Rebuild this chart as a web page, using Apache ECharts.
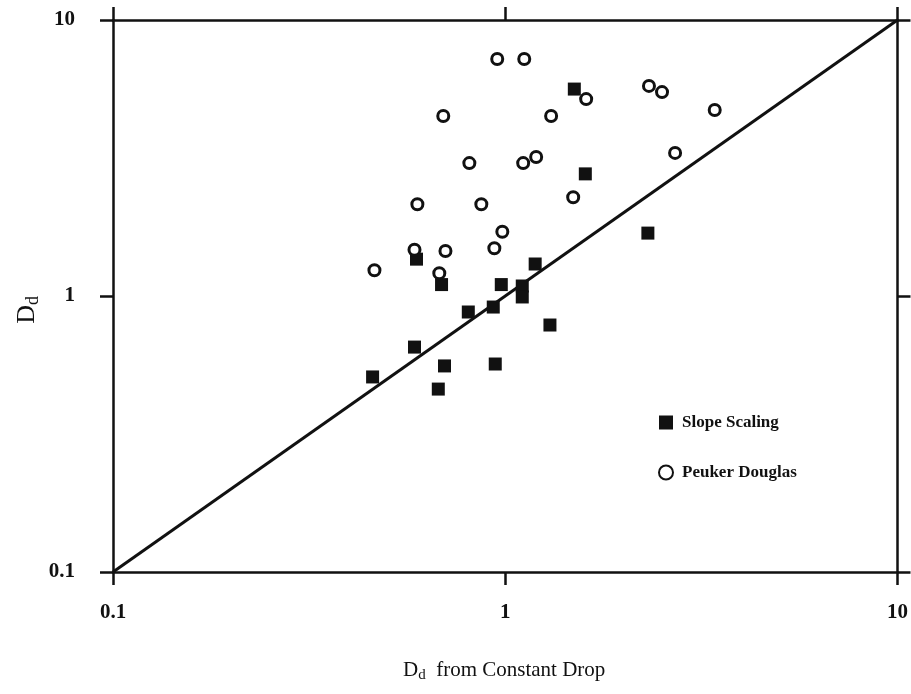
<!DOCTYPE html>
<html>
<head>
<meta charset="utf-8">
<script src="https://cdn.jsdelivr.net/npm/echarts@6/dist/echarts.min.js"></script>
<style>
html,body{margin:0;padding:0;background:#fff;}
#chart{width:911px;height:694px;}
</style>
</head>
<body>
<div id="chart"></div>
<script>
// Tick labels (log axes, base 10)
const tickLabels = ['0.1', '1', '10'];

// Slope Scaling: [Dd from Constant Drop, Dd]
const slopeX = [1.50, 1.60, 2.31, 0.594, 0.688, 0.977, 1.105, 1.105, 1.192, 0.805, 0.932, 1.30, 0.587, 0.700, 0.943, 0.459, 0.675];
const slopeY = [5.62, 2.77, 1.69, 1.36, 1.10, 1.10, 1.087, 0.992, 1.306, 0.875, 0.912, 0.785, 0.653, 0.558, 0.567, 0.509, 0.460];

// Peuker Douglas
const peukerX = [0.954, 1.118, 1.608, 0.695, 1.309, 2.325, 2.51, 3.42, 2.71, 0.810, 1.111, 1.199, 1.49, 0.597, 0.869, 0.983, 0.938, 0.587, 0.704, 0.464, 0.679];
const peukerY = [7.22, 7.22, 5.17, 4.49, 4.49, 5.77, 5.48, 4.72, 3.30, 3.03, 3.03, 3.19, 2.28, 2.15, 2.15, 1.71, 1.49, 1.47, 1.456, 1.24, 1.21];

// 1:1 line
const lineX = [0.1, 10];
const lineY = [0.1, 10];

const seriesNames = ['Slope Scaling', 'Peuker Douglas'];

const zip = (a, b) => a.map((v, i) => [v, b[i]]);
const FONT = '"Liberation Serif", "DejaVu Serif", serif';
const INK = '#111';

function labelFor(v) {
  const e = Math.round(Math.log10(v));
  return tickLabels[e + 1];
}

const axisLineStyle = { color: INK, width: 2.5 };
const tickStyle = { show: true, length: 13, lineStyle: { color: INK, width: 2.5 } };

const chart = echarts.init(document.getElementById('chart'));
chart.setOption({
  backgroundColor: '#fff',
  animation: false,
  grid: { left: 113, right: 12, top: 20, bottom: 122 },
  xAxis: [
    {
      type: 'log', logBase: 10, min: 0.1, max: 10, position: 'bottom',
      axisLine: { show: true, lineStyle: axisLineStyle },
      axisTick: tickStyle,
      minorTick: { show: false },
      splitLine: { show: false },
      axisLabel: { color: INK, fontFamily: FONT, fontSize: 21, fontWeight: 'bold', margin: 30, formatter: labelFor }
    },
    {
      type: 'log', logBase: 10, min: 0.1, max: 10, position: 'top',
      axisLine: { show: true, lineStyle: axisLineStyle },
      axisTick: tickStyle,
      splitLine: { show: false },
      axisLabel: { show: false }
    }
  ],
  yAxis: [
    {
      type: 'log', logBase: 10, min: 0.1, max: 10, position: 'left',
      axisLine: { show: true, lineStyle: axisLineStyle },
      axisTick: tickStyle,
      splitLine: { show: false },
      axisLabel: { color: INK, fontFamily: FONT, fontSize: 21, fontWeight: 'bold', margin: 38, formatter: labelFor }
    },
    {
      type: 'log', logBase: 10, min: 0.1, max: 10, position: 'right',
      axisLine: { show: true, lineStyle: axisLineStyle },
      axisTick: tickStyle,
      splitLine: { show: false },
      axisLabel: { show: false }
    }
  ],
  legend: {
    data: seriesNames,
    orient: 'vertical',
    left: 653, top: 409,
    itemWidth: 14, itemHeight: 14, itemGap: 33,
    textStyle: { color: INK, fontFamily: FONT, fontSize: 17, fontWeight: 'bold', padding: [0, 0, 0, 4] }
  },
  graphic: [
    {
      type: 'text', left: 14, top: 296, rotation: Math.PI / 2,
      style: {
        text: '{a|D}{b|d}',
        rich: {
          a: { fontFamily: FONT, fontSize: 26, fill: INK },
          b: { fontFamily: FONT, fontSize: 18, fill: INK, padding: [12, 0, 0, 0] }
        }
      }
    },
    {
      type: 'text', left: 403, top: 660,
      style: {
        text: '{a|D}{b|d}{c|  from Constant Drop}',
        rich: {
          a: { fontFamily: FONT, fontSize: 21, fill: INK },
          b: { fontFamily: FONT, fontSize: 15, fill: INK, padding: [10, 0, 0, 0] },
          c: { fontFamily: FONT, fontSize: 21, fill: INK }
        }
      }
    }
  ],
  series: [
    {
      type: 'line', xAxisIndex: 0, yAxisIndex: 0,
      data: zip(lineX, lineY), symbol: 'none', silent: true,
      lineStyle: { color: INK, width: 3 }, z: 1
    },
    {
      name: seriesNames[0], type: 'scatter', xAxisIndex: 0, yAxisIndex: 0,
      data: zip(slopeX, slopeY), symbol: 'rect', symbolSize: 13,
      itemStyle: { color: INK, borderColor: INK, borderWidth: 0, opacity: 1 }, z: 3
    },
    {
      name: seriesNames[1], type: 'scatter', xAxisIndex: 0, yAxisIndex: 0,
      data: zip(peukerX, peukerY), symbol: 'circle', symbolSize: 11,
      itemStyle: { color: '#fff', borderColor: INK, borderWidth: 3, opacity: 1 }, z: 4
    }
  ]
});
</script>
</body>
</html>
